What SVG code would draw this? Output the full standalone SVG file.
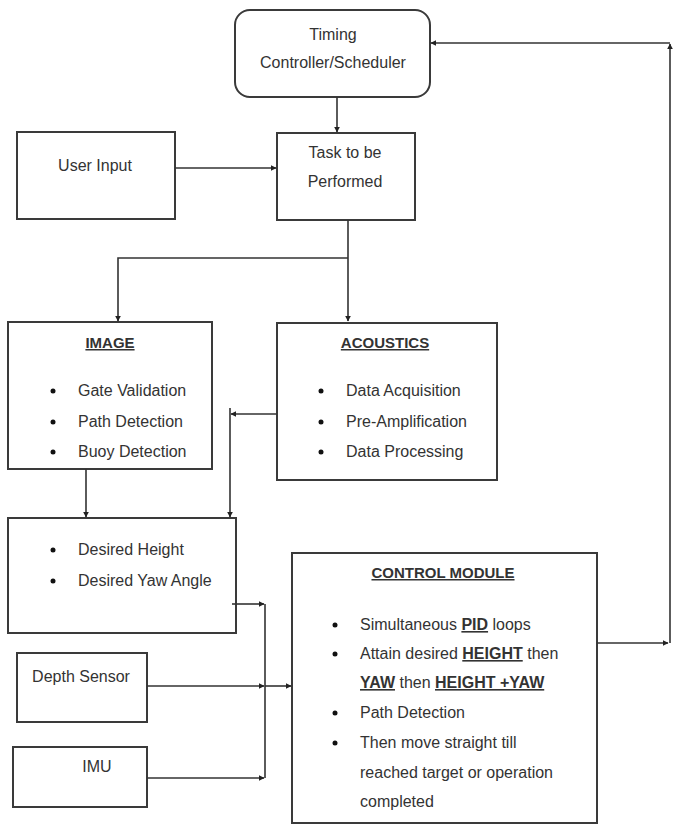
<svg xmlns="http://www.w3.org/2000/svg" width="675" height="825" viewBox="0 0 675 825">
<style>
.box{fill:#fff;stroke:#3a3a3a;stroke-width:2}
.t{font-family:"Liberation Sans",Arial,sans-serif;font-size:16px;fill:#333}
.c{text-anchor:middle}
.b{font-weight:bold}
.h{font-size:15px}
.u{text-decoration:underline}
.ln{fill:none;stroke:#333;stroke-width:1.6}
</style>
<defs>
<marker id="ah" viewBox="0 0 10 10" refX="9" refY="5" markerWidth="6" markerHeight="6" markerUnits="userSpaceOnUse" orient="auto">
<path d="M0,0 L10,5 L0,10 z" fill="#222"/>
</marker>
</defs>
<g id="timing"><rect class="box" x="235" y="10" width="195" height="87" rx="15"/>
<text class="t c" x="333" y="40">Timing</text>
<text class="t c" x="333" y="68">Controller/Scheduler</text></g>
<g id="task"><rect class="box" x="277" y="133" width="138" height="87"/>
<text class="t c" x="345" y="158">Task to be</text>
<text class="t c" x="345" y="187">Performed</text></g>
<g id="user"><rect class="box" x="17" y="132" width="158" height="87"/>
<text class="t c" x="95" y="171">User Input</text></g>
<g id="image"><rect class="box" x="8" y="322" width="204" height="147"/>
<text class="t c b u h" x="110" y="348">IMAGE</text>
<circle cx="53" cy="391" r="2.5" fill="#111"/><text class="t" x="78" y="396">Gate Validation</text>
<circle cx="53" cy="422" r="2.5" fill="#111"/><text class="t" x="78" y="427">Path Detection</text>
<circle cx="53" cy="452" r="2.5" fill="#111"/><text class="t" x="78" y="457">Buoy Detection</text></g>
<g id="acoustics"><rect class="box" x="277" y="323" width="220" height="157"/>
<text class="t c b u h" x="385" y="348">ACOUSTICS</text>
<circle cx="321" cy="391" r="2.5" fill="#111"/><text class="t" x="346" y="396">Data Acquisition</text>
<circle cx="321" cy="422" r="2.5" fill="#111"/><text class="t" x="346" y="427">Pre-Amplification</text>
<circle cx="321" cy="452" r="2.5" fill="#111"/><text class="t" x="346" y="457">Data Processing</text></g>
<g id="desired"><rect class="box" x="8" y="518" width="228" height="115"/>
<circle cx="53" cy="550" r="2.5" fill="#111"/><text class="t" x="78" y="555">Desired Height</text>
<circle cx="53" cy="581" r="2.5" fill="#111"/><text class="t" x="78" y="586">Desired Yaw Angle</text></g>
<g id="depth"><rect class="box" x="17" y="653" width="130" height="69"/>
<text class="t c" x="81" y="682">Depth Sensor</text></g>
<g id="imu"><rect class="box" x="13" y="747" width="134" height="60"/>
<text class="t c" x="97" y="772">IMU</text></g>
<g id="control"><rect class="box" x="292" y="553" width="305" height="270"/>
<text class="t c b u h" x="443" y="578">CONTROL MODULE</text>
<circle cx="335" cy="625" r="2.5" fill="#111"/><text class="t" x="360" y="630">Simultaneous <tspan class="b u">PID</tspan> loops</text>
<circle cx="335" cy="654" r="2.5" fill="#111"/><text class="t" x="360" y="659">Attain desired  <tspan class="b u">HEIGHT</tspan>  then</text>
<text class="t" x="360" y="688"><tspan class="b u">YAW</tspan> then <tspan class="b u">HEIGHT +YAW</tspan></text>
<circle cx="335" cy="713" r="2.5" fill="#111"/><text class="t" x="360" y="718">Path Detection</text>
<circle cx="335" cy="743" r="2.5" fill="#111"/><text class="t" x="360" y="748">Then move straight till</text>
<text class="t" x="360" y="778">reached target or operation</text>
<text class="t" x="360" y="807">completed</text></g>
<g id="connectors">
<path class="ln" d="M337,97 V132" marker-end="url(#ah)"/>
<path class="ln" d="M175,168 H276" marker-end="url(#ah)"/>
<path class="ln" d="M348,220 V321" marker-end="url(#ah)"/>
<path class="ln" d="M348,258 H118 V321" marker-end="url(#ah)"/>
<path class="ln" d="M277,414 H231" marker-end="url(#ah)"/>
<path class="ln" d="M230,408 V517" marker-end="url(#ah)"/>
<path class="ln" d="M86,469 V517" marker-end="url(#ah)"/>
<path class="ln" d="M232,604 H264" marker-end="url(#ah)"/>
<path class="ln" d="M147,686 H264" marker-end="url(#ah)"/>
<path class="ln" d="M147,778 H264" marker-end="url(#ah)"/>
<path class="ln" d="M265,604 V778"/>
<path class="ln" d="M265,686 H291" marker-end="url(#ah)"/>
<path class="ln" d="M597,643 H668" marker-end="url(#ah)"/>
<path class="ln" d="M670,643 V44" marker-end="url(#ah)"/>
<path class="ln" d="M670,43 H431" marker-end="url(#ah)"/>
</g>
</svg>
